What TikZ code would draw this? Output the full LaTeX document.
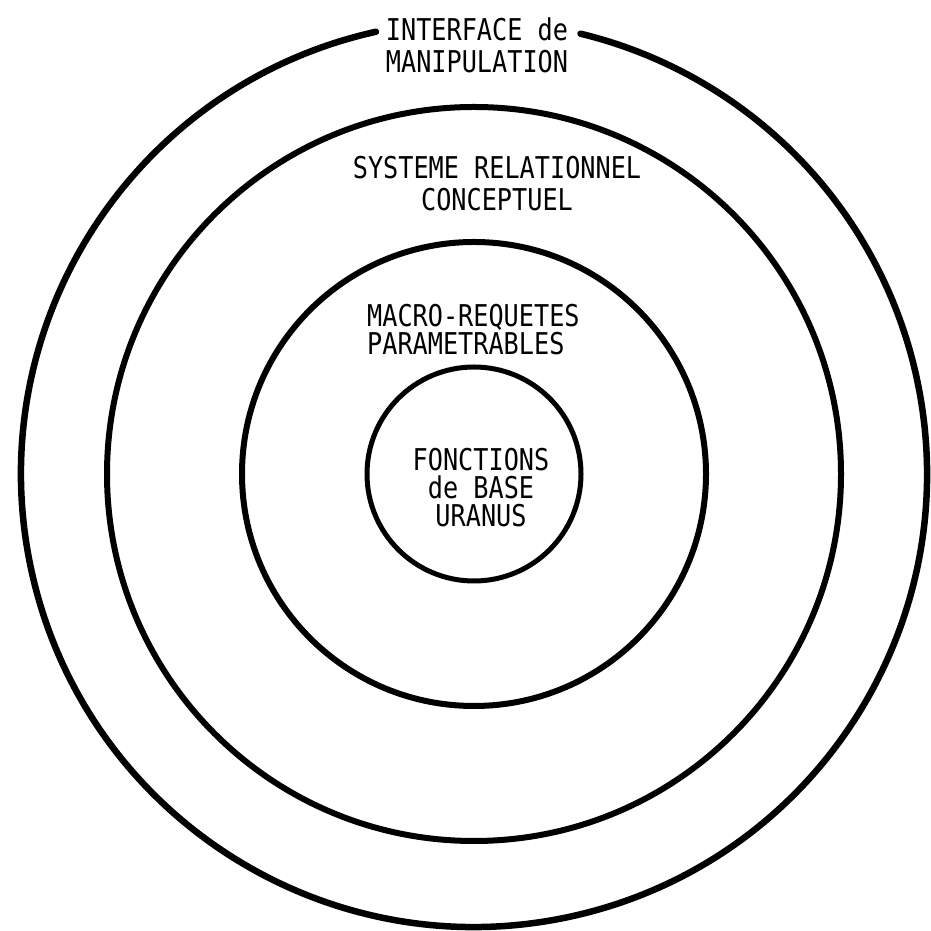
\documentclass[tikz,border=0pt]{standalone}
\usepackage{fontspec}
\newfontfamily\typo[FakeStretch=0.84]{DejaVu Sans Mono}
\tikzset{
  ring/.style={draw=black, line width=#1},
  lbl/.style={font=\typo\fontsize{30pt}{32pt}\selectfont, inner sep=0pt, align=center, text=black}
}
\begin{document}
\begin{tikzpicture}[x=1pt,y=1pt]
\useasboundingbox[fill=white] (0,0) rectangle (930,931);
\coordinate (c) at (474,457);
% outer ring with a gap for the title
\draw[ring=6.5pt, line cap=round] (c) ++(102.5:453pt) arc[start angle=102.5, end angle=436.4, radius=453pt];
\draw[ring=6pt] (c) circle[radius=367pt];
\draw[ring=6pt] (c) circle[radius=232pt];
\draw[ring=5pt] (c) circle[radius=107pt];
\node[lbl] (interface) at (477,886) {INTERFACE de\\MANIPULATION};
\node[lbl] (systeme) at (497,747) {SYSTEME RELATIONNEL\\CONCEPTUEL};
\node[lbl, align=left, anchor=west, font=\typo\fontsize{30pt}{28pt}\selectfont] (macro) at (367,601) {MACRO-REQUETES\\PARAMETRABLES};
\node[lbl, font=\typo\fontsize{30pt}{28pt}\selectfont] (fonctions) at (481,443) {FONCTIONS\\de BASE\\URANUS};
\end{tikzpicture}
\end{document}
